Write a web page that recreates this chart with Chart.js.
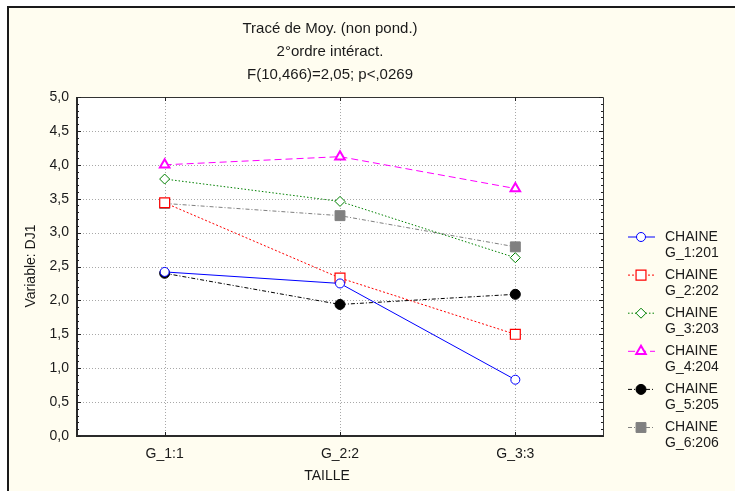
<!DOCTYPE html>
<html>
<head>
<meta charset="utf-8">
<script src="https://cdn.jsdelivr.net/npm/chart.js@4.4.1/dist/chart.umd.min.js"></script>
<style>
  body { margin: 0; background: #fff; }
  #wrap { width: 735px; height: 491px; }
</style>
</head>
<body>
<div id="wrap"><canvas id="myChart" width="735" height="491"></canvas></div>
<script>
// categories (TAILLE)
const tailles = ['G_1:1', 'G_2:2', 'G_3:3'];
// mean DJ1 per CHAINE
const g1 = [2.42, 2.25, 0.83];
const g2 = [3.44, 2.33, 1.50];
const g3 = [3.79, 3.46, 2.63];
const g4 = [4.00, 4.12, 3.65];
const g5 = [2.40, 1.94, 2.09];
const g6 = [3.43, 3.25, 2.79];
const chaineNames = ['G_1:201', 'G_2:202', 'G_3:203', 'G_4:204', 'G_5:205', 'G_6:206'];
const titleLines = ['Tracé de Moy. (non pond.)', '2°ordre intéract.', 'F(10,466)=2,05; p<,0269'];

const FONT = '"Liberation Sans", Arial, Helvetica, sans-serif';

const styles = [
    { color: '#0000ff', fill: '#ffffff', dash: [], point: 'circle', r: 4.5, bw: 1 },
    { color: '#ff0000', fill: '#ffffff', dash: [2, 2], point: 'rect', r: 7, bw: 1.2 },
    { color: '#008000', fill: '#ffffff', dash: [1.5, 2], point: 'rectRot', r: 5, bw: 1 },
    { color: '#ff00ff', fill: '#ffffff', dash: [7, 4], point: 'triangle', r: 5.5, bw: 2 },
    { color: '#000000', fill: '#000000', dash: [4, 2, 1, 2], point: 'circle', r: 5, bw: 1 },
    { color: '#808080', fill: '#808080', dash: [4, 2, 1, 2], point: 'rect', r: 7, bw: 1 }
];
const series = [g1, g2, g3, g4, g5, g6];

const datasets = series.map((d, i) => ({
    label: 'CHAINE ' + chaineNames[i],
    data: d,
    borderColor: styles[i].color,
    borderWidth: 1,
    borderDash: styles[i].dash,
    pointStyle: styles[i].point,
    pointRadius: styles[i].r,
    pointBorderWidth: styles[i].bw,
    pointBorderColor: styles[i].color,
    pointBackgroundColor: styles[i].fill,
    tension: 0,
    fill: false
}));

const frame = {
    id: 'frame',
    beforeDraw(chart) {
        const ctx = chart.ctx;
        const a = chart.chartArea;
        ctx.save();
        ctx.fillStyle = '#ffffff';
        ctx.fillRect(0, 0, chart.width, chart.height);
        ctx.fillStyle = '#fffdf0';
        ctx.fillRect(9, 8, chart.width - 9, chart.height - 8);
        ctx.fillStyle = '#1a1a1a';
        ctx.fillRect(7, 6, chart.width - 7, 2);
        ctx.fillRect(7, 6, 2, chart.height - 6);
        ctx.fillStyle = '#ffffff';
        ctx.fillRect(a.left, a.top, a.right - a.left, a.bottom - a.top);
        // dotted grid
        const y = chart.scales.y;
        const x = chart.scales.x;
        ctx.strokeStyle = '#a8a8a8';
        ctx.lineWidth = 1;
        ctx.setLineDash([1, 2]);
        y.ticks.forEach(t => {
            if (t.value <= 0 || t.value >= 5) return;
            const py = Math.round(y.getPixelForValue(t.value)) + 0.5;
            ctx.beginPath();
            ctx.moveTo(a.left, py);
            ctx.lineTo(a.right, py);
            ctx.stroke();
        });
        tailles.forEach((t, i) => {
            const px = Math.round(x.getPixelForValue(i)) + 0.5;
            ctx.beginPath();
            ctx.moveTo(px, a.top);
            ctx.lineTo(px, a.bottom);
            ctx.stroke();
        });
        ctx.restore();
    },
    afterDraw(chart) {
        const ctx = chart.ctx;
        const a = chart.chartArea;
        const y = chart.scales.y;
        const x = chart.scales.x;
        ctx.save();
        // frame of the plot
        ctx.strokeStyle = '#333';
        ctx.lineWidth = 1;
        ctx.beginPath();
        ctx.moveTo(a.left, a.top + 0.5);
        ctx.lineTo(a.right + 0.5, a.top + 0.5);
        ctx.lineTo(a.right + 0.5, a.bottom);
        ctx.stroke();
        ctx.fillStyle = '#2a2a2a';
        ctx.fillRect(a.left - 1, a.top, 2, a.bottom - a.top + 1);
        ctx.fillRect(a.left - 1, a.bottom - 1, a.right - a.left + 2, 2);
        // minor / major ticks inside the frame
        ctx.strokeStyle = '#222';
        for (let k = 0; k <= 50; k++) {
            const py = Math.round(y.getPixelForValue(k / 10)) + 0.5;
            const len = k % 5 === 0 ? 4 : 2;
            ctx.beginPath();
            ctx.moveTo(a.left, py);
            ctx.lineTo(a.left + len, py);
            ctx.moveTo(a.right, py);
            ctx.lineTo(a.right - len, py);
            ctx.stroke();
        }
        tailles.forEach((t, i) => {
            const px = Math.round(x.getPixelForValue(i)) + 0.5;
            ctx.beginPath();
            ctx.moveTo(px, a.bottom);
            ctx.lineTo(px, a.bottom - 4);
            ctx.moveTo(px, a.top);
            ctx.lineTo(px, a.top + 4);
            ctx.stroke();
        });
        // titles
        ctx.fillStyle = '#1a1a1a';
        ctx.textAlign = 'center';
        ctx.textBaseline = 'middle';
        ctx.font = '15px ' + FONT;
        titleLines.forEach((t, i) => ctx.fillText(t, 330, 29 + i * 23));
        ctx.font = '14px ' + FONT;
        // axis titles
        ctx.fillText('TAILLE', 327, 476);
        ctx.save();
        ctx.translate(31, 266);
        ctx.rotate(-Math.PI / 2);
        ctx.fillText('Variable: DJ1', 0, 0);
        ctx.restore();
        // legend
        chart.data.datasets.forEach((ds, i) => {
            const cy = 237 + i * 38.1;
            ctx.save();
            ctx.strokeStyle = ds.borderColor;
            ctx.lineWidth = 1;
            ctx.setLineDash(ds.borderDash);
            ctx.beginPath();
            ctx.moveTo(628, cy);
            ctx.lineTo(655, cy);
            ctx.stroke();
            ctx.setLineDash([]);
            ctx.strokeStyle = ds.pointBorderColor;
            ctx.fillStyle = ds.pointBackgroundColor;
            ctx.lineWidth = ds.pointBorderWidth;
            Chart.helpers.drawPoint(ctx, { pointStyle: ds.pointStyle, radius: ds.pointRadius, rotation: 0, borderWidth: ds.pointBorderWidth }, 641, cy);
            ctx.restore();
            ctx.fillStyle = '#1a1a1a';
            ctx.textAlign = 'left';
            ctx.font = '14px ' + FONT;
            ctx.fillText('CHAINE', 665, cy);
            ctx.fillText(chaineNames[i], 665, cy + 16);
        });
        ctx.restore();
    }
};

const ctx = document.getElementById('myChart').getContext('2d');
const myChart = new Chart(ctx, {
    type: 'line',
    data: { labels: tailles, datasets: datasets },
    options: {
        responsive: false,
        devicePixelRatio: 1,
        animation: false,
        layout: { padding: { top: 97, right: 132, left: 0, bottom: 0 } },
        plugins: { legend: { display: false }, title: { display: false }, tooltip: { enabled: false } },
        scales: {
            x: {
                type: 'category',
                offset: true,
                afterFit(scale) { scale.height = 55; },
                grid: { display: false, drawTicks: false },
                border: { display: false },
                ticks: { color: '#1a1a1a', font: { family: FONT, size: 14 }, padding: 10 }
            },
            y: {
                min: 0,
                max: 5,
                afterFit(scale) { scale.width = 77; },
                grid: { display: false, drawTicks: false },
                border: { display: false },
                ticks: {
                    stepSize: 0.5,
                    color: '#1a1a1a',
                    font: { family: FONT, size: 14 },
                    padding: 8,
                    callback: v => v.toFixed(1).replace('.', ',')
                }
            }
        }
    },
    plugins: [frame]
});
</script>
</body>
</html>
